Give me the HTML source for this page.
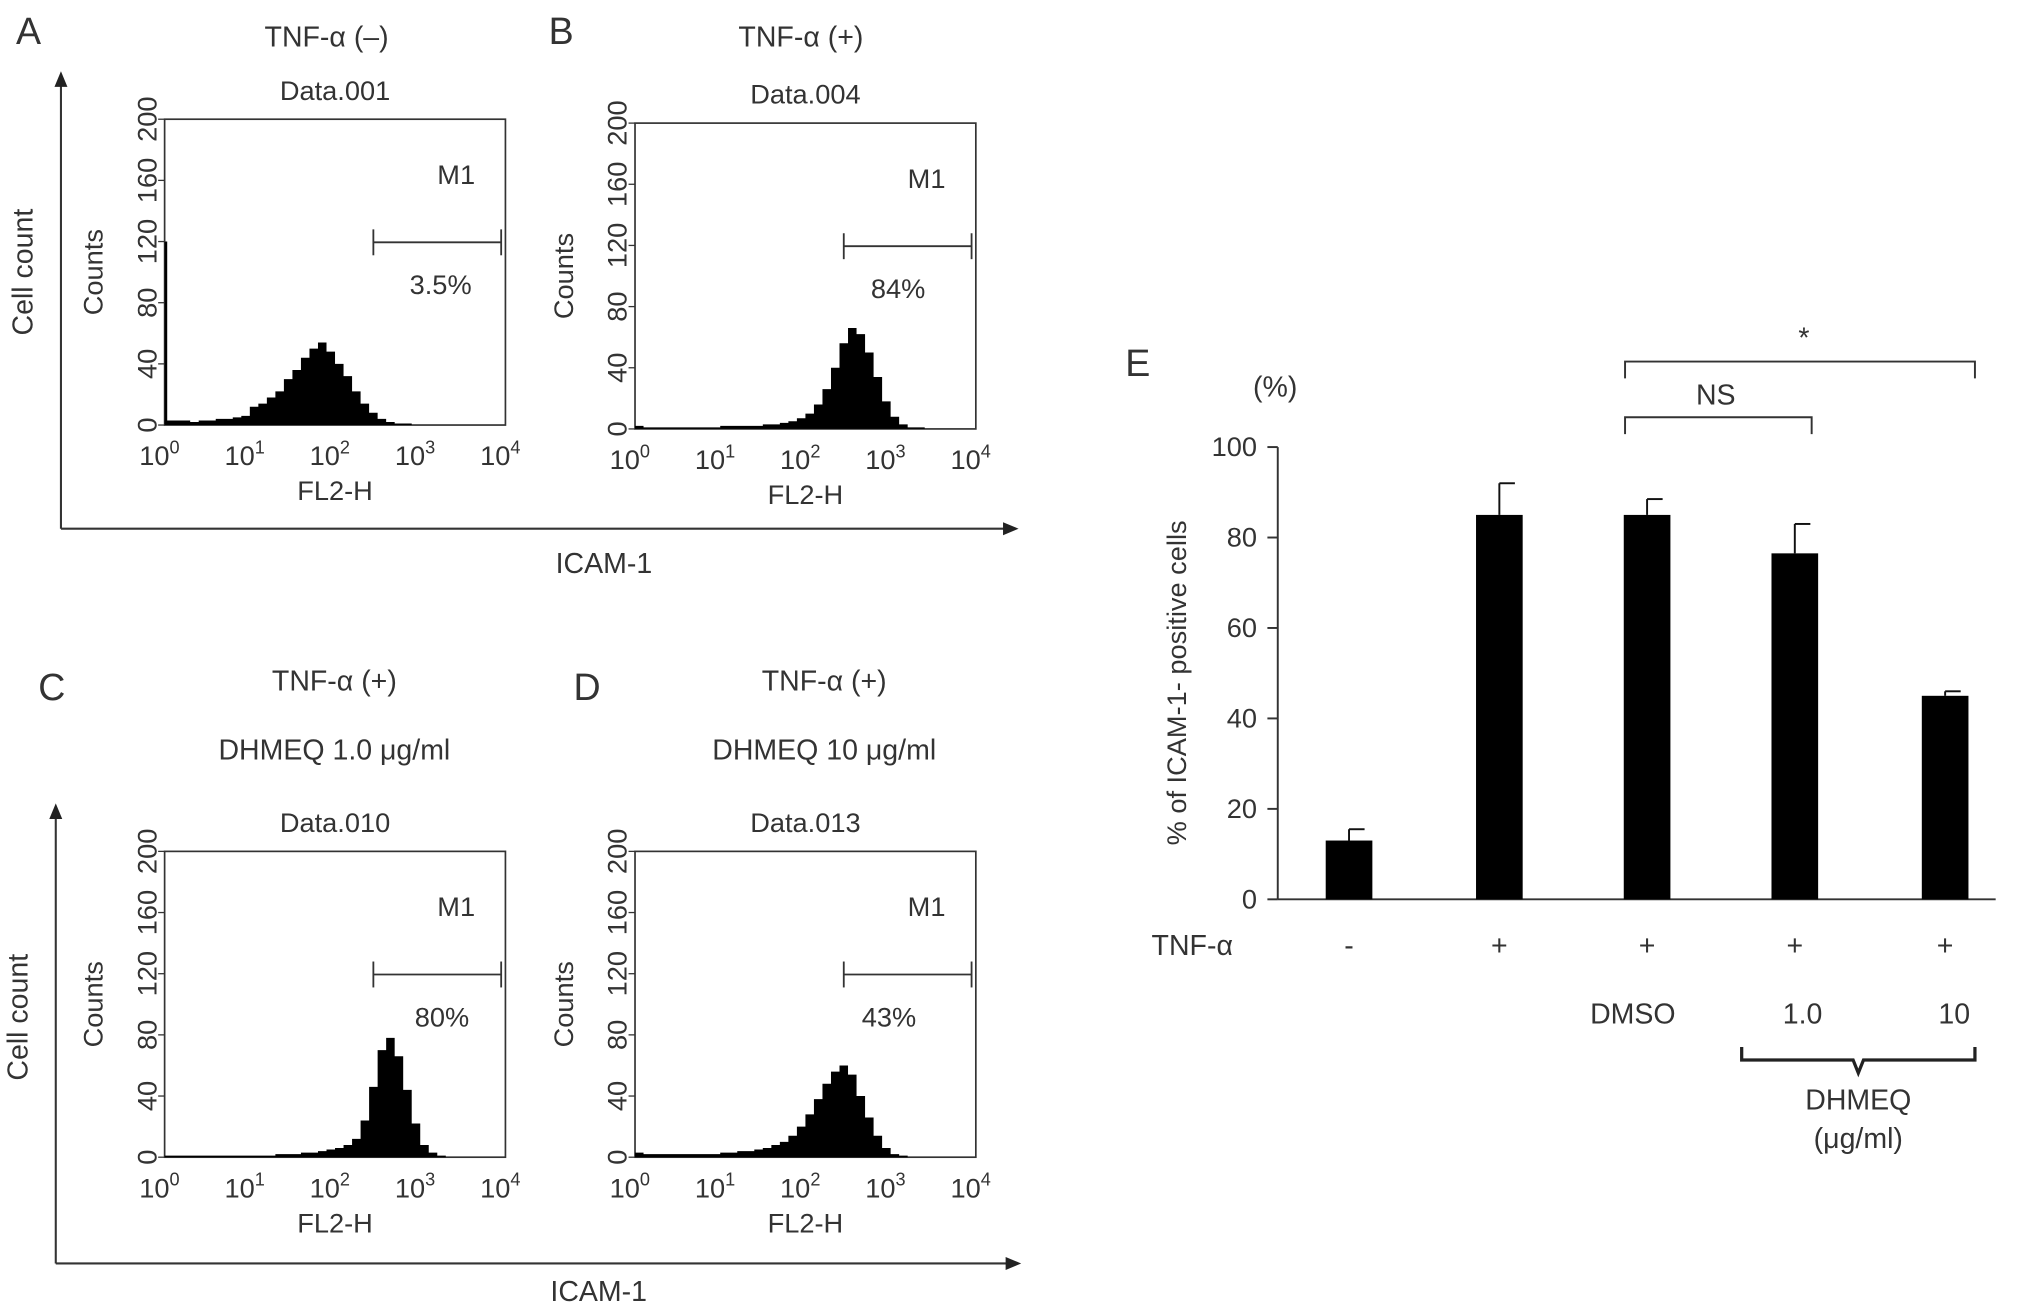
<!DOCTYPE html>
<html><head><meta charset="utf-8"><style>
html,body{margin:0;padding:0;background:#fff;}
svg{display:block;font-family:"Liberation Sans",sans-serif;}
text{fill:#333;}
</style></head><body>
<svg id="fig" width="2032" height="1314" viewBox="0 0 1568 1014" xmlns="http://www.w3.org/2000/svg">
<g id="root"></g>
</svg>
<script>
// Histogram data: 40 bins across log10 0..4 (0.1 each), counts
const histA = [3,3,3,2,3,3,4,4,5,6,12,14,18,22,30,36,44,50,54,48,40,32,22,14,8,4,2,1,1,0,0,0,0,0,0,0,0,0,0,0];
const spikeA = 120;
const histB = [2,1,1,1,1,1,1,1,1,1,2,2,2,2,2,3,3,4,5,7,10,16,26,40,56,66,62,50,34,18,8,3,1,1,0,0,0,0,0,0];
const histC = [1,1,1,1,1,1,1,1,1,1,1,1,1,2,2,2,3,3,4,5,6,8,12,24,46,70,78,66,44,22,8,3,1,0,0,0,0,0,0,0];
const histD = [3,2,2,2,2,2,2,2,2,2,3,3,4,4,5,6,8,10,14,20,28,38,48,56,60,54,40,26,14,6,2,1,0,0,0,0,0,0,0,0];
const yTicks = [0,40,80,120,160,200];
// Bar chart E data
const barCats = ["-","+","+","+","+"];
const barVals = [13,85,85,76.5,45];
const barErrs = [2.5,7,3.5,6.5,1];
const barTicks = [0,20,40,60,80,100];

const NS="http://www.w3.org/2000/svg";
const root=document.getElementById('root');
function mk(tag,attrs,parent){const e=document.createElementNS(NS,tag);for(const k in attrs)e.setAttribute(k,attrs[k]);(parent||root).appendChild(e);return e;}
function txt(x,y,s,size,parent,anchor){const t=mk('text',{x:x,y:y,'font-size':size,'text-anchor':anchor||'middle'},parent);t.textContent=s;return t;}

function hist(panel){
  const g=mk('g',{});
  
  
  const x0=panel.x0,x1=panel.x1,yb=panel.yb,yt=panel.yt;
  const sx=v=>x0+(x1-x0)*v/4, sy=v=>yb-(yb-yt)*v/200;
  const box=mk('rect',{x:x0,y:yt,width:x1-x0,height:yb-yt,fill:'none',stroke:'#333','stroke-width':1.3},g);
  
  
  let d='M'+sx(0)+','+sy(0);
  panel.data.forEach((v,i)=>{d+=' L'+sx(i*0.1)+','+sy(v)+' L'+sx((i+1)*0.1)+','+sy(v);});
  d+=' L'+sx(4)+','+sy(0)+' Z';
  const p=mk('path',{d:d,fill:'#000'},g);
  
  
  if(panel.spike){
    const sp=mk('line',{x1:sx(0)+1,x2:sx(0)+1,y1:sy(0),y2:sy(panel.spike),stroke:'#000','stroke-width':2},g);
    
    
  }
  yTicks.forEach(t=>{
    mk('line',{x1:x0-5,x2:x0,y1:sy(t),y2:sy(t),stroke:'#333'},g);
    const tl=txt(0,0,String(t),21,g);
    tl.setAttribute('transform','translate('+(x0-12)+','+sy(t)+') rotate(-90)');
    tl.setAttribute('dominant-baseline','middle');
    
    
  });
  for(let e=0;e<=4;e++){
    const t=mk('text',{x:sx(e)-4,y:yb+31,'font-size':21,'text-anchor':'middle'},g);
    
    
    t.textContent='10';
    const s=mk('tspan',{dy:-9,'font-size':14},t);s.textContent=String(e);
  }
  const yl=txt(0,0,'Counts',21,g);
  yl.setAttribute('transform','translate('+(x0-48)+','+((yb+yt)/2)+') rotate(-90)');
  
  
  const xl=txt((x0+x1)/2,yb+58,'FL2-H',21,g);
  
  
  const dt=txt((x0+x1)/2,yt-15,panel.dataName,21,g);
  
  
  const m=txt(x1-38,yt+50,'M1',21,g);
  
  
  const gy=panel.gateY, gl=sx(panel.gate0), gr=sx(panel.gate1);
  mk('line',{x1:gl,x2:gr,y1:gy,y2:gy,stroke:'#333','stroke-width':1.4},g);
  mk('line',{x1:gl,x2:gl,y1:gy-10,y2:gy+10,stroke:'#333','stroke-width':1.4},g);
  mk('line',{x1:gr,x2:gr,y1:gy-10,y2:gy+10,stroke:'#333','stroke-width':1.4},g);
  const pc=txt(panel.pctX,gy+40,panel.pct,21,g);
  
  
}
hist({id:'a',x0:127,x1:390,yb:328,yt:92,data:histA,spike:spikeA,dataName:'Data.001',gate0:2.45,gate1:3.95,gateY:187,pct:'3.5%',pctX:340});
hist({id:'b',x0:490,x1:753,yb:331,yt:95,data:histB,dataName:'Data.004',gate0:2.45,gate1:3.95,gateY:190,pct:'84%',pctX:693});
hist({id:'c',x0:127,x1:390,yb:893,yt:657,data:histC,dataName:'Data.010',gate0:2.45,gate1:3.95,gateY:752,pct:'80%',pctX:341});
hist({id:'d',x0:490,x1:753,yb:893,yt:657,data:histD,dataName:'Data.013',gate0:2.45,gate1:3.95,gateY:752,pct:'43%',pctX:686});

[['A',22,34],['B',433,34],['C',40,540],['D',453,540],['E',878,290]].forEach(([s,x,y])=>{
  const t=txt(x,y,s,29,root);
});
[['TNF-α (–)',252,36],['TNF-α (+)',618,36],['TNF-α (+)',258,533],['DHMEQ 1.0 μg/ml',258,586],['TNF-α (+)',636,533],['DHMEQ 10 μg/ml',636,586]].forEach(([s,x,y])=>{
  const t=txt(x,y,s,22,root);
});
function arrowAxes(ox,oy,top,right,yLabelY,xLabelY,xLabelX){
  mk('line',{x1:ox,y1:oy,x2:ox,y2:top+10,stroke:'#333','stroke-width':1.6});
  mk('polygon',{points:(ox-5)+','+(top+12)+' '+(ox+5)+','+(top+12)+' '+ox+','+top,fill:'#222'});
  mk('line',{x1:ox,y1:oy,x2:right-10,y2:oy,stroke:'#333','stroke-width':1.6});
  mk('polygon',{points:(right-12)+','+(oy-5)+' '+(right-12)+','+(oy+5)+' '+right+','+oy,fill:'#222'});
  const cl=txt(0,0,'Cell count',22,root);
  cl.setAttribute('transform','translate('+(ox-22)+','+yLabelY+') rotate(-90)');
  
  const il=txt(xLabelX,xLabelY,'ICAM-1',22,root);
  
}
arrowAxes(47,408,55,786,210,442,466);
arrowAxes(43,975,620,788,785,1004,462);

const gE=mk('g',{});


const ax0=986, yb0=694, yt100=345;
const by=v=>yb0-(yb0-yt100)*v/100;
const centers=[1041,1157,1271,1385,1501];
mk('line',{x1:ax0,x2:ax0,y1:by(100),y2:yb0,stroke:'#333','stroke-width':1.5},gE);
mk('line',{x1:ax0,x2:1540,y1:yb0,y2:yb0,stroke:'#333','stroke-width':1.5},gE);
barTicks.forEach(t=>{
  mk('line',{x1:ax0-8,x2:ax0,y1:by(t),y2:by(t),stroke:'#333','stroke-width':1.5},gE);
  const l=txt(ax0-16,by(t)+7,String(t),21,gE,'end');
  
});
barVals.forEach((v,i)=>{
  const c=centers[i], w=36;
  const r=mk('rect',{x:c-w/2,y:by(v),width:w,height:yb0-by(v),fill:'#000'},gE);
  
  
  const e=by(v+barErrs[i]);
  mk('line',{x1:c,x2:c,y1:by(v),y2:e,stroke:'#111','stroke-width':1.5},gE);
  mk('line',{x1:c,x2:c+12,y1:e,y2:e,stroke:'#111','stroke-width':1.5},gE);
  const cl=txt(c,737,barCats[i],22,gE);
  
});
const yt=txt(0,0,'% of ICAM-1- positive cells',21,gE);
yt.setAttribute('transform','translate(915,527) rotate(-90)');

[['(%)',984,306,'middle'],['TNF-α',920,737,'middle'],['DMSO',1260,790,'middle'],['1.0',1391,790,'middle'],['10',1508,790,'middle'],['DHMEQ',1434,856,'middle'],['(μg/ml)',1434,886,'middle'],['NS',1324,312,'middle'],['*',1392,268,'middle']].forEach(([s,x,y,a])=>{
  const t=txt(x,y,s,22,gE,a);
});
mk('path',{d:'M1254,335 L1254,322 L1398,322 L1398,335',fill:'none',stroke:'#333','stroke-width':1.5},gE);
mk('path',{d:'M1254,292 L1254,279 L1524,279 L1524,292',fill:'none',stroke:'#333','stroke-width':1.5},gE);
mk('path',{d:'M1344,808 L1344,818 L1430,818 L1434,828 L1438,818 L1524,818 L1524,808',fill:'none',stroke:'#222','stroke-width':2.5},gE);
</script>
</body></html>
